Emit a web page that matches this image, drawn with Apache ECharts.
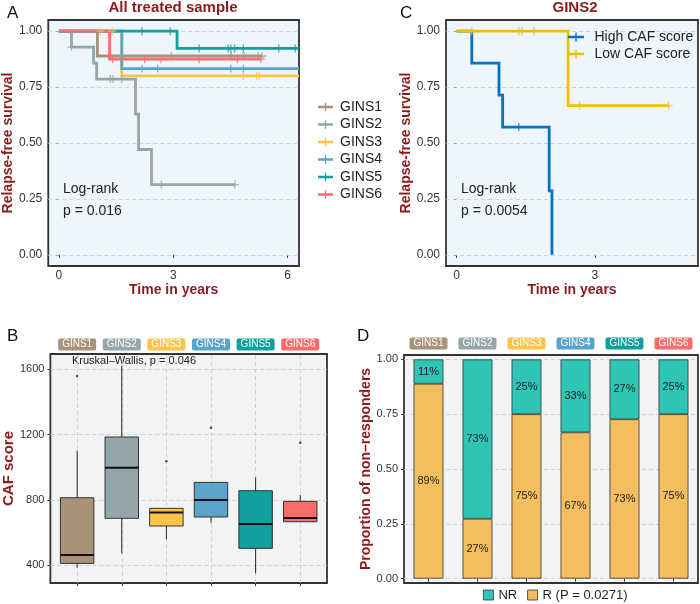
<!DOCTYPE html>
<html><head><meta charset="utf-8">
<script src="https://cdn.jsdelivr.net/npm/echarts@6/dist/echarts.min.js"></script>
<style>html,body{margin:0;padding:0;background:#fff}#c{width:700px;height:604px}</style>
</head><body><div id="c"></div>
<script>
// ---------- DATA ----------
const groups = ['GINS1', 'GINS2', 'GINS3', 'GINS4', 'GINS5', 'GINS6'];

// Panel A: Kaplan-Meier step data (time in years, survival) + censor times
const g1Time = [0, 1.01, 5.33];
const g1Surv = [1, 0.889, 0.889];
const g1Cens = [2.95, 4.52, 4.86, 5.23, 5.33];
const g2Time = [0, 0.33, 0.91, 0.99, 2.01, 2.09, 2.43, 4.62];
const g2Surv = [1, 0.929, 0.857, 0.786, 0.629, 0.471, 0.314, 0.314];
const g2Cens = [0.33, 1.35, 1.42, 1.65, 2.69, 4.62];
const g3Time = [0, 1.65, 6.3];
const g3Surv = [1, 0.8, 0.8];
const g3Cens = [1.09, 1.40, 4.84, 5.19, 5.26];
const g4Time = [0, 1.65, 6.3];
const g4Surv = [1, 0.833, 0.833];
const g4Cens = [2.18, 2.59, 4.51, 4.84];
const g5Time = [0, 3.10, 6.3];
const g5Surv = [1, 0.923, 0.923];
const g5Cens = [2.18, 2.92, 3.68, 4.44, 4.51, 4.61, 4.84, 5.77, 6.2];
const g6Time = [0, 1.33, 5.3];
const g6Surv = [1, 0.875, 0.875];
const g6Cens = [1.41, 2.25, 2.68, 3.68, 4.68, 5.3];

// Panel C: GINS2 by CAF score
const cGroups = ['High CAF score', 'Low CAF score'];
const highTime = [0, 0.33, 0.92, 1.0, 2.01, 2.07];
const highSurv = [1, 0.857, 0.714, 0.571, 0.286, 0];
const highCens = [1.35];
const lowTime = [0, 2.42, 4.6];
const lowSurv = [1, 0.667, 0.667];
const lowCens = [0.33, 1.35, 1.42, 1.68, 2.67, 4.6];

const survTicks = [0, 0.25, 0.5, 0.75, 1];
const timeTicksA = [0, 3, 6];
const timeTicksC = [0, 3];

// Panel B: CAF score boxplots
const boxMin = [385, 473, 559, 661, 351, 667];
const boxQ1  = [412, 688, 641, 696, 504, 667];
const boxMed = [463, 998, 724, 800, 653, 690];
const boxQ3  = [814, 1186, 749, 908, 857, 792];
const boxMax = [1102, 1622, 749, 908, 939, 830];
const outlierGroup = [1, 3, 4, 6];
const outlierValue = [1559, 1037, 1243, 1151];
const cafTicks = [400, 800, 1200, 1600];

// Panel D: proportion of responders / non-responders
const rShare  = [0.889, 0.273, 0.75, 0.667, 0.727, 0.75];
const nrShare = [0.111, 0.727, 0.25, 0.333, 0.273, 0.25];

// ---------- STYLE ----------
const pal = ['#A8937A', '#95A6AA', '#FFC447', '#5BA4C9', '#12A09E', '#FF6B6B'];
const cPal = ['#0073C2', '#EFC000'];
const nrColor = '#2EC4B6', rColor = '#F4BE5E';
const dark = '#8B1A1A';
const FONT = "'Liberation Sans', Arial, Helvetica, sans-serif";
const plusPath = 'path://M4.2,0 H5.8 V4.2 H10 V5.8 H5.8 V10 H4.2 V5.8 H0 V4.2 H4.2 Z';
const legendIcon = 'path://M0,3.2 H7.3 V0 H8.7 V3.2 H16 V5.8 H8.7 V9 H7.3 V5.8 H0 Z';

function survAt(times, surv, t) {
  let s = surv[0];
  for (let i = 0; i < times.length; i++) if (times[i] <= t) s = surv[i];
  return s;
}
function stepData(times, surv) { return times.map((t, i) => [t, surv[i]]); }
function censData(times, surv, cens) { return cens.map(t => [t, survAt(times, surv, t)]); }

const kmA = [[g1Time, g1Surv, g1Cens], [g2Time, g2Surv, g2Cens], [g3Time, g3Surv, g3Cens],
             [g4Time, g4Surv, g4Cens], [g5Time, g5Surv, g5Cens], [g6Time, g6Surv, g6Cens]];
const kmC = [[highTime, highSurv, highCens], [lowTime, lowSurv, lowCens]];

const gridLine = { type: [4, 3], color: '#c9c9c9', width: 0.8 };
function guideSeries(xi, yi, data) {
  return { type: 'line', xAxisIndex: xi, yAxisIndex: yi, data: [], z: 1, silent: true,
    markLine: { silent: true, z: 1, symbol: ['none', 'none'], label: { show: false },
      lineStyle: gridLine, emphasis: { disabled: true }, animation: false, data } };
}
const tickStyle = { show: true, length: 3, lineStyle: { color: '#333', width: 1 } };
const axisTitle = { color: dark, fontWeight: 'bold', fontSize: 14, fontFamily: FONT };
const labelStyle = (fs) => ({ color: '#333', fontSize: fs, fontFamily: FONT });

const series = [];
// A
series.push(guideSeries(0, 0, survTicks.map(v => ({ yAxis: v }))));
kmA.forEach((g, i) => series.push({ type: 'line', name: groups[i], xAxisIndex: 0, yAxisIndex: 0,
  step: 'end', symbol: 'none', showSymbol: false, data: stepData(g[0], g[1]),
  lineStyle: { width: 2.8, color: pal[i], cap: 'butt', join: 'miter' },
  itemStyle: { color: pal[i] }, z: 2 }));
kmA.forEach((g, i) => series.push({ type: 'scatter', name: groups[i], xAxisIndex: 0, yAxisIndex: 0,
  symbol: plusPath, symbolSize: 8, data: censData(g[0], g[1], g[2]), itemStyle: { color: pal[i] }, z: 3 }));
// C
series.push(guideSeries(1, 1, survTicks.map(v => ({ yAxis: v }))));
kmC.forEach((g, i) => series.push({ type: 'line', name: cGroups[i], xAxisIndex: 1, yAxisIndex: 1,
  step: 'end', symbol: 'none', showSymbol: false, data: stepData(g[0], g[1]),
  lineStyle: { width: 2.8, color: cPal[i], cap: 'butt', join: 'miter' },
  itemStyle: { color: cPal[i] }, z: 2 }));
kmC.forEach((g, i) => series.push({ type: 'scatter', name: cGroups[i], xAxisIndex: 1, yAxisIndex: 1,
  symbol: plusPath, symbolSize: 8, data: censData(g[0], g[1], g[2]), itemStyle: { color: cPal[i] }, z: 3 }));
// B
series.push(guideSeries(2, 2, cafTicks.map(v => ({ yAxis: v })).concat(groups.map((g, i) => ({ xAxis: i + 1 })))));
series.push({ type: 'custom', xAxisIndex: 2, yAxisIndex: 2, z: 2,
  data: groups.map((g, i) => [i + 1, boxMin[i], boxQ1[i], boxMed[i], boxQ3[i], boxMax[i]]),
  encode: { x: 0, y: [1, 2, 3, 4, 5] },
  renderItem: function (params, api) {
    const x = api.value(0);
    const lo = api.coord([x, api.value(1)]);
    const q1 = api.coord([x, api.value(2)]);
    const md = api.coord([x, api.value(3)]);
    const q3 = api.coord([x, api.value(4)]);
    const hi = api.coord([x, api.value(5)]);
    const half = api.size([0.75, 0])[0] / 2;
    const ln = { stroke: '#111', lineWidth: 0.9 };
    return { type: 'group', children: [
      { type: 'line', shape: { x1: lo[0], y1: lo[1], x2: q1[0], y2: q1[1] }, style: ln },
      { type: 'line', shape: { x1: q3[0], y1: q3[1], x2: hi[0], y2: hi[1] }, style: ln },
      { type: 'rect', shape: { x: q1[0] - half, y: q3[1], width: half * 2, height: q1[1] - q3[1] },
        style: { fill: pal[params.dataIndex], stroke: '#222', lineWidth: 0.9 } },
      { type: 'line', shape: { x1: md[0] - half, y1: md[1], x2: md[0] + half, y2: md[1] },
        style: { stroke: '#111', lineWidth: 2 } }
    ] };
  }
});
series.push({ type: 'scatter', xAxisIndex: 2, yAxisIndex: 2, symbolSize: 2.5, z: 3,
  data: outlierGroup.map((g, i) => [g, outlierValue[i]]), itemStyle: { color: '#222' } });
// D
series.push(guideSeries(4, 3, survTicks.map(v => ({ yAxis: v }))));
const barLabel = { show: true, position: 'inside', color: '#222', fontSize: 11, fontFamily: FONT,
  formatter: p => Math.round(p.value * 100) + '%' };
series.push({ type: 'bar', name: 'R (P = 0.0271)', xAxisIndex: 4, yAxisIndex: 3, stack: 'd', barWidth: '61%',
  data: rShare, itemStyle: { color: rColor, borderColor: '#333', borderWidth: 0.8 }, label: barLabel, z: 2 });
series.push({ type: 'bar', name: 'NR', xAxisIndex: 4, yAxisIndex: 3, stack: 'd', barWidth: '61%',
  data: nrShare, itemStyle: { color: nrColor, borderColor: '#333', borderWidth: 0.8 }, label: barLabel, z: 2 });

const rich = {};
groups.forEach((g, i) => {
  rich['s' + (i + 1)] = { backgroundColor: pal[i], color: '#ffffff', fontSize: 10, fontFamily: FONT,
    padding: [1, 4, 1, 4], lineHeight: 11, borderRadius: 2 };
});

const survY = (gi) => ({ type: 'value', gridIndex: gi, min: -0.05, max: 1.05,
  name: 'Relapse-free survival', nameLocation: 'middle', nameGap: 32, nameTextStyle: axisTitle,
  axisLine: { show: false }, splitLine: { show: false },
  axisTick: Object.assign({ customValues: survTicks }, tickStyle),
  axisLabel: Object.assign({ customValues: survTicks, margin: 6, formatter: v => v.toFixed(2) }, labelStyle(12)) });

const option = {
  animation: false,
  textStyle: { fontFamily: FONT },
  grid: [
    { left: 48, top: 20, width: 251, height: 246, show: true, backgroundColor: '#EEF5FD', borderColor: '#333', borderWidth: 1.8 },
    { left: 446, top: 20, width: 252, height: 246, show: true, backgroundColor: '#EEF5FD', borderColor: '#333', borderWidth: 1.8 },
    { left: 47, top: 354, width: 280, height: 229, show: true, backgroundColor: '#F1F3F4', borderColor: '#333', borderWidth: 1.8 },
    { left: 404, top: 355, width: 294, height: 228, show: true, backgroundColor: '#F1F3F4', borderColor: '#333', borderWidth: 1.8 }
  ],
  xAxis: [
    { type: 'value', gridIndex: 0, min: -0.28, max: 6.3, name: 'Time in years', nameLocation: 'middle', nameGap: 17,
      nameTextStyle: axisTitle, axisLine: { show: false }, splitLine: { show: false },
      axisTick: Object.assign({ customValues: timeTicksA }, tickStyle),
      axisLabel: Object.assign({ customValues: timeTicksA, margin: 4 }, labelStyle(12)) },
    { type: 'value', gridIndex: 1, min: -0.23, max: 5.24, name: 'Time in years', nameLocation: 'middle', nameGap: 17,
      nameTextStyle: axisTitle, axisLine: { show: false }, splitLine: { show: false },
      axisTick: Object.assign({ customValues: timeTicksC }, tickStyle),
      axisLabel: Object.assign({ customValues: timeTicksC, margin: 4 }, labelStyle(12)) },
    { type: 'value', gridIndex: 2, min: 0.4, max: 6.6, axisLine: { show: false }, splitLine: { show: false },
      axisTick: Object.assign({ customValues: [1, 2, 3, 4, 5, 6] }, tickStyle), axisLabel: { show: false } },
    { type: 'value', gridIndex: 2, min: 0.4, max: 6.6, position: 'top', axisLine: { show: false }, splitLine: { show: false },
      axisTick: { show: false },
      axisLabel: { customValues: [1, 2, 3, 4, 5, 6], margin: 4, formatter: v => '{s' + v + '|' + groups[v - 1] + '}', rich } },
    { type: 'category', gridIndex: 3, data: groups, axisLine: { show: false }, splitLine: { show: false },
      axisTick: Object.assign({ alignWithLabel: true }, tickStyle), axisLabel: { show: false } },
    { type: 'category', gridIndex: 3, data: groups, position: 'top', axisLine: { show: false }, splitLine: { show: false },
      axisTick: { show: false },
      axisLabel: { interval: 0, margin: 6, formatter: (v, i) => '{s' + (i + 1) + '|' + v + '}', rich } }
  ],
  yAxis: [
    survY(0),
    Object.assign(survY(1), { nameGap: 33 }),
    { type: 'value', gridIndex: 2, min: 292, max: 1694, name: 'CAF score', nameLocation: 'middle', nameGap: 29,
      nameTextStyle: Object.assign({}, axisTitle, { fontSize: 15 }), axisLine: { show: false }, splitLine: { show: false },
      axisTick: Object.assign({ customValues: cafTicks }, tickStyle),
      axisLabel: Object.assign({ customValues: cafTicks, margin: 6, formatter: v => String(v) }, labelStyle(11)) },
    { type: 'value', gridIndex: 3, min: -0.02, max: 1.02, name: 'Proportion of non\u2013responders', nameLocation: 'middle', nameGap: 31,
      nameTextStyle: axisTitle, axisLine: { show: false }, splitLine: { show: false },
      axisTick: Object.assign({ customValues: survTicks }, tickStyle),
      axisLabel: Object.assign({ customValues: survTicks, margin: 6, formatter: v => v.toFixed(2) }, labelStyle(11)) }
  ],
  legend: [
    { data: groups.map((g, i) => ({ name: g, icon: legendIcon, itemStyle: { color: pal[i] } })),
      orient: 'vertical', left: 313, top: 95, itemWidth: 15, itemHeight: 9, itemGap: 3.5, selectedMode: false,
      textStyle: { fontSize: 14, color: '#222', lineHeight: 14, fontFamily: FONT, padding: [0, 0, 0, 2] } },
    { data: cGroups.map((g, i) => ({ name: g, icon: legendIcon, itemStyle: { color: cPal[i] } })),
      orient: 'vertical', left: 563, top: 25, itemWidth: 17, itemHeight: 9, itemGap: 3, selectedMode: false,
      textStyle: { fontSize: 14, color: '#222', lineHeight: 14, fontFamily: FONT, padding: [0, 0, 0, 5] } },
    { data: [{ name: 'NR', icon: 'rect', itemStyle: { color: nrColor, borderColor: '#333', borderWidth: 0.8 } },
             { name: 'R (P = 0.0271)', icon: 'rect', itemStyle: { color: rColor, borderColor: '#333', borderWidth: 0.8 } }],
      orient: 'horizontal', left: 478, top: 583, itemWidth: 10, itemHeight: 10, itemGap: 10, selectedMode: false,
      textStyle: { fontSize: 13, color: '#222', lineHeight: 14, fontFamily: FONT } }
  ],
  graphic: [
    { type: 'text', x: 7, y: 13, style: { text: 'A', font: '17px ' + FONT, fill: '#111', textVerticalAlign: 'middle' } },
    { type: 'text', x: 400, y: 13, style: { text: 'C', font: '17px ' + FONT, fill: '#111', textVerticalAlign: 'middle' } },
    { type: 'text', x: 7, y: 336, style: { text: 'B', font: '17px ' + FONT, fill: '#111', textVerticalAlign: 'middle' } },
    { type: 'text', x: 357, y: 336, style: { text: 'D', font: '17px ' + FONT, fill: '#111', textVerticalAlign: 'middle' } },
    { type: 'text', x: 173, y: 8, style: { text: 'All treated sample', font: 'bold 15px ' + FONT, fill: dark, textAlign: 'center', textVerticalAlign: 'middle' } },
    { type: 'text', x: 575, y: 8, style: { text: 'GINS2', font: 'bold 15px ' + FONT, fill: dark, textAlign: 'center', textVerticalAlign: 'middle' } },
    { type: 'text', x: 63, y: 189, style: { text: 'Log-rank', font: '14px ' + FONT, fill: '#222', textVerticalAlign: 'middle' } },
    { type: 'text', x: 63, y: 211, style: { text: 'p = 0.016', font: '14px ' + FONT, fill: '#222', textVerticalAlign: 'middle' } },
    { type: 'text', x: 461, y: 189, style: { text: 'Log-rank', font: '14px ' + FONT, fill: '#222', textVerticalAlign: 'middle' } },
    { type: 'text', x: 461, y: 211, style: { text: 'p = 0.0054', font: '14px ' + FONT, fill: '#222', textVerticalAlign: 'middle' } },
    { type: 'text', x: 72, y: 361, style: { text: 'Kruskal\u2013Wallis, p = 0.046', font: '11px ' + FONT, fill: '#222', textVerticalAlign: 'middle' } }
  ],
  series
};

const chart = echarts.init(document.getElementById('c'), null, { renderer: 'canvas' });
chart.setOption(option);
</script>
</body></html>
